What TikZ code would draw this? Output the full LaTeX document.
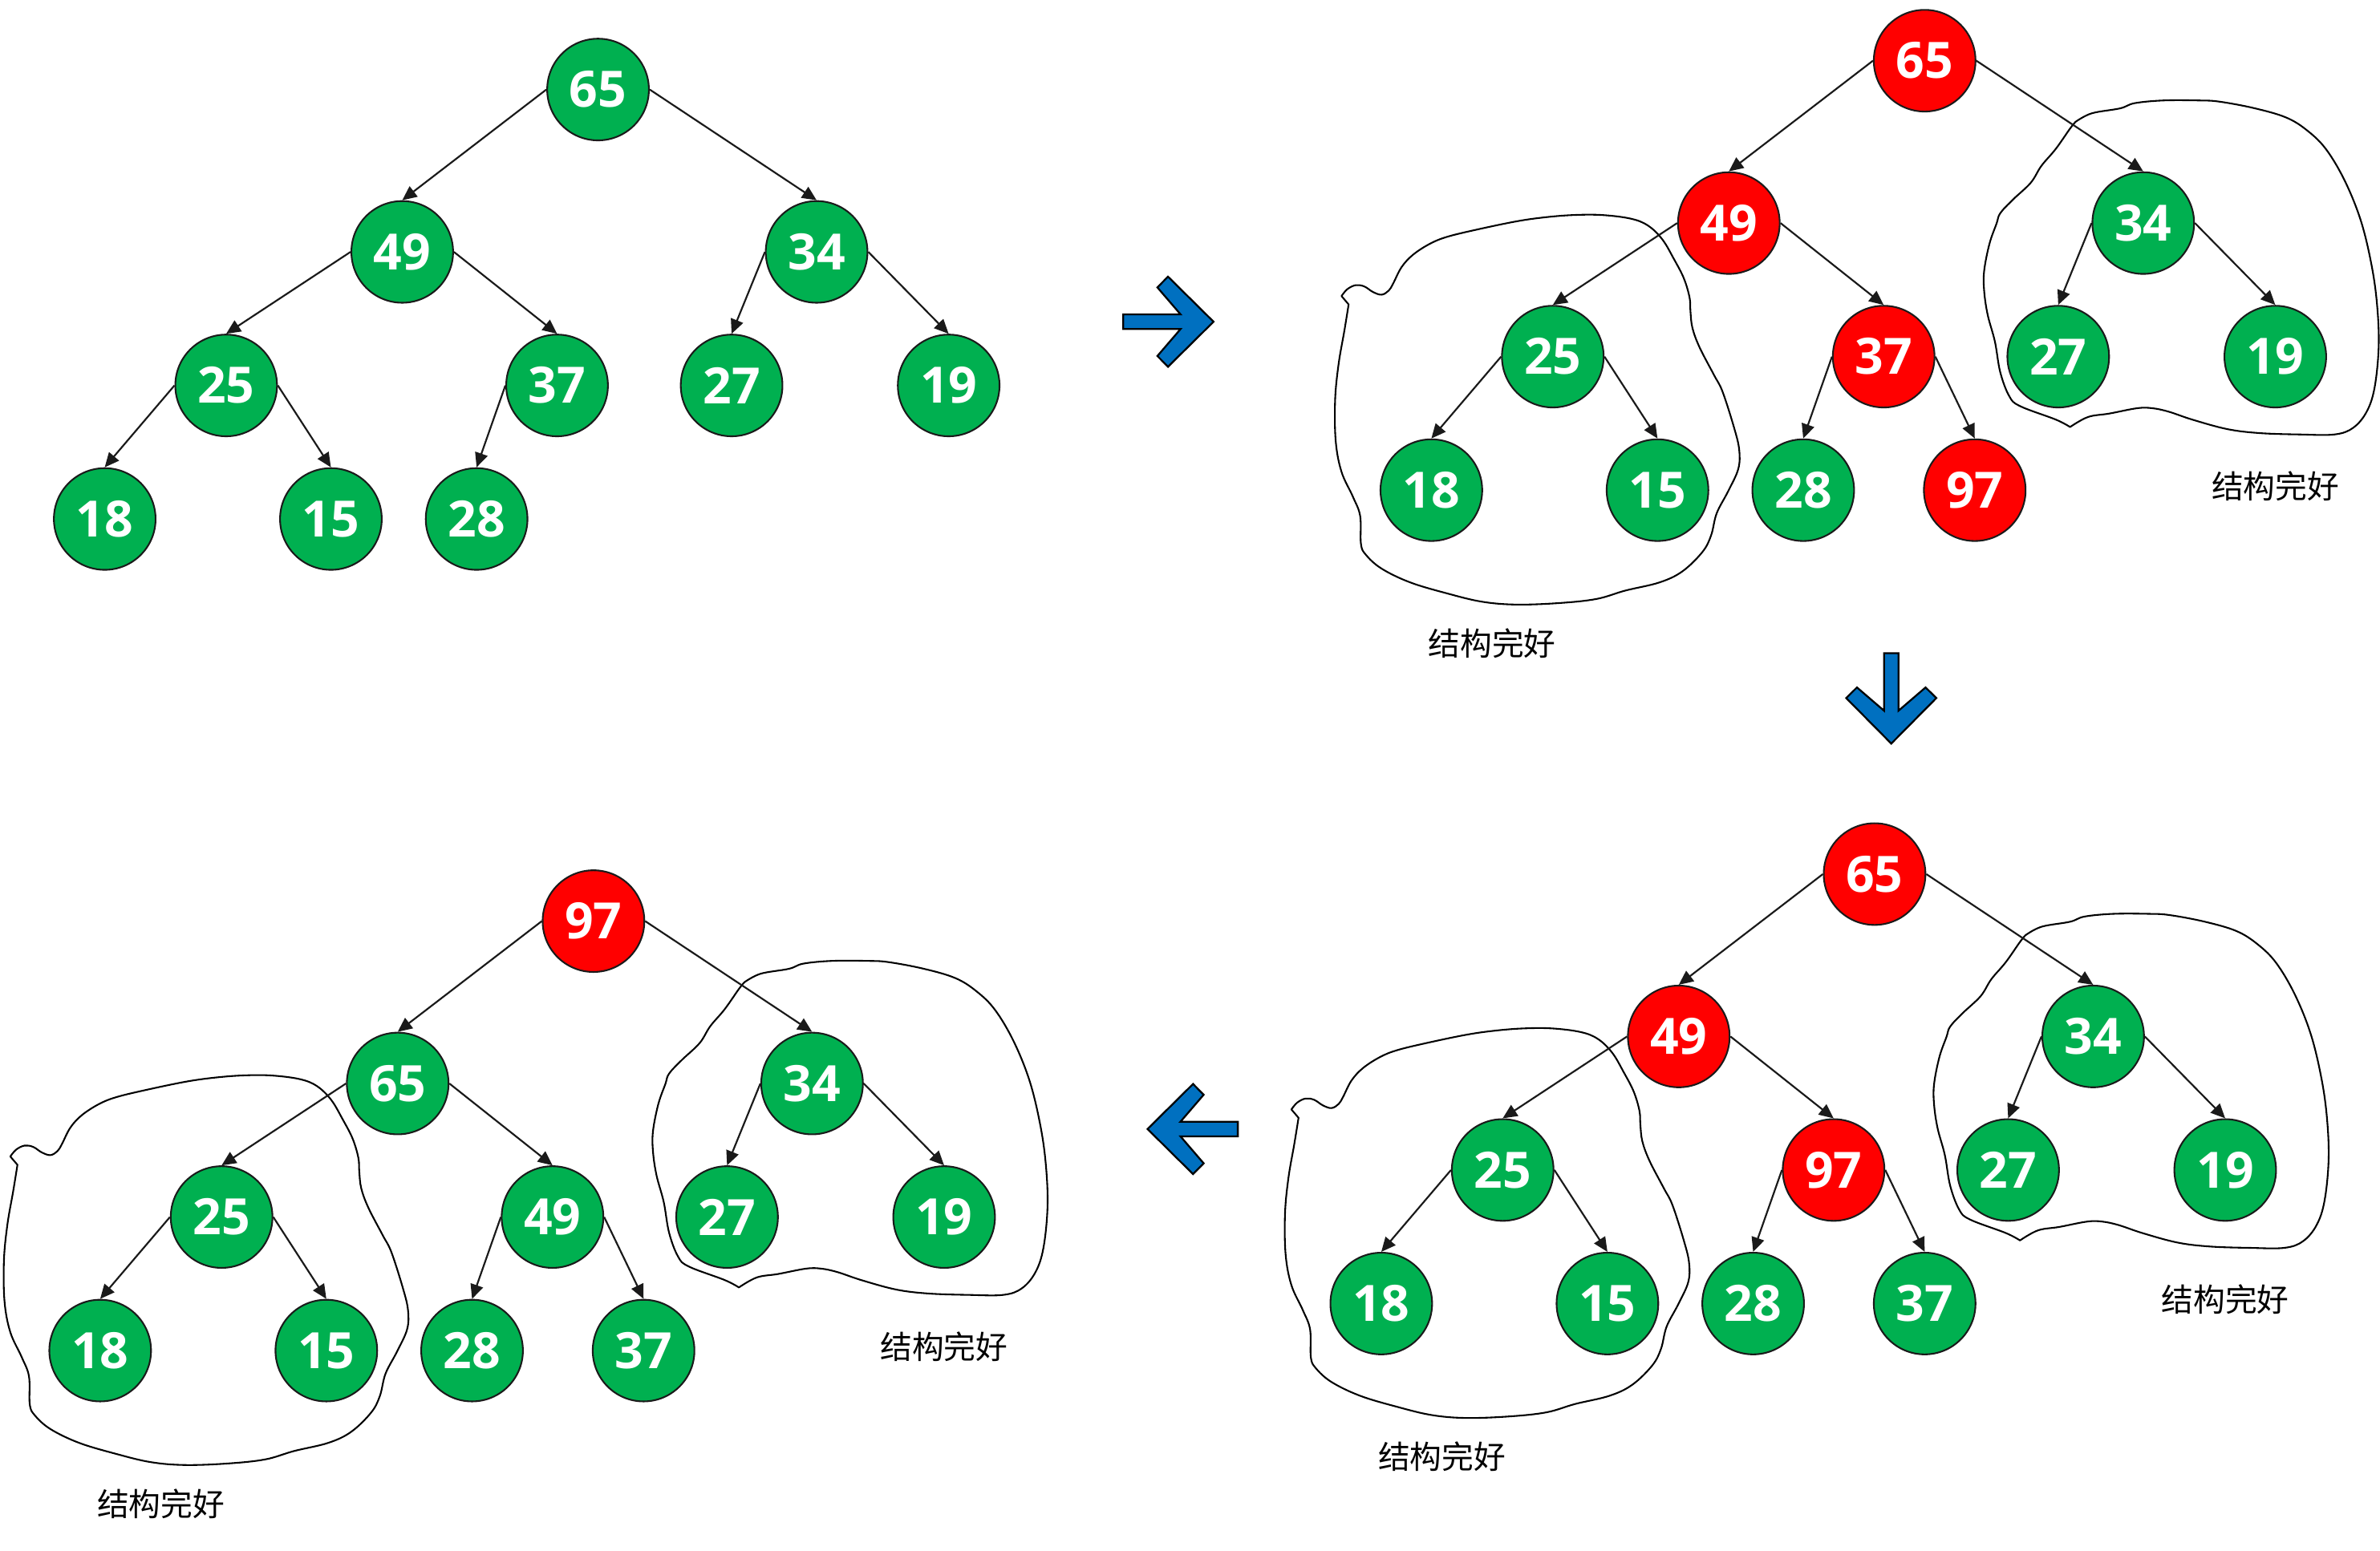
\documentclass[tikz,border=0pt]{standalone}
\usepackage{fontspec}
\setmainfont{Open Sans}
\newfontfamily\cjk{Noto Sans CJK SC}
\usetikzlibrary{arrows.meta}
\definecolor{ngreen}{RGB}{0,176,80}
\definecolor{nred}{RGB}{255,0,0}
\definecolor{nblue}{RGB}{0,112,192}
\definecolor{nline}{RGB}{26,26,26}
\tikzset{
  gnode/.style={circle, fill=ngreen, draw=nline, line width=1.1pt, minimum size=67pt, inner sep=0pt, text=white, font=\bfseries\fontsize{33}{33}\selectfont},
  rnode/.style={gnode, fill=nred},
  edge/.style={draw=nline, line width=1.15pt, -{Triangle[length=9.5pt,width=8.5pt]}},
  blob/.style={draw=black, line width=1.1pt, line join=round},
  lbl/.style={font=\cjk\fontsize{21}{21}\selectfont, inner sep=0pt},
  bigarrow/.style={fill=nblue, draw=black, line width=1.2pt, line join=miter},
}
\newcommand\treeedges[1]{%
  \draw[edge] (a#1.west) -- (b#1.north);
  \draw[edge] (a#1.east) -- (c#1.north);
  \draw[edge] (b#1.west) -- (d#1.north);
  \draw[edge] (b#1.east) -- (e#1.north);
  \draw[edge] (c#1.west) -- (f#1.north);
  \draw[edge] (c#1.east) -- (g#1.north);
  \draw[edge] (d#1.west) -- (h#1.north);
  \draw[edge] (d#1.east) -- (i#1.north);
  \draw[edge] (e#1.west) -- (j#1.north);
}
\newcommand\leftblob{%
  \draw[blob] plot[smooth, tension=0.6] coordinates {
    (-384.2,155.1) (-380.4,150.6) (-374.8,147.9) (-369.1,148.8) (-363.5,152.4)
    (-357.8,154.2) (-353.1,151.5) (-350.2,146.9) (-344.6,136) (-337,127.8)
    (-325.7,120.5) (-314.4,116) (-295.5,111.4) (-269.1,105.9) (-250.2,103.2)
    (-231.3,101.7) (-212.5,101.7) (-193.6,104.1) (-182.2,108.7) (-172.8,117.8)
    (-165.3,130.5) (-158.7,143.3) (-154.9,156) (-154.3,165.2) (-153,176.1)
    (-148.3,188.9) (-138.8,207.1) (-133.2,218) (-125.6,241.7) (-122.2,256.3)
    (-122.8,269) (-129.4,283.6) (-137,298.2) (-140.7,312.8) (-146.4,323.7)
    (-159.6,336.5) (-174.7,343.8) (-197.3,349.2) (-216.2,354.7) (-240.8,357.4)
    (-269.1,358.4) (-291.7,356.5) (-314.4,351.1) (-338.9,343.8) (-357.8,334.7)
    (-368.2,325.5) (-371.4,318.3) (-371.9,300) (-376.7,287.3) (-384.2,270.9)
    (-388,250.8) (-388.4,223.5) (-386.1,199.8) (-382.3,177.9) (-379.5,160.6)
  } -- cycle;
}
\newcommand\rightblob{%
  \draw[blob] plot[smooth, tension=0.6] coordinates {
    (99.4,40.3) (110,34.7) (128.8,31.4) (138.3,28) (157.2,26.2) (180.8,26.2)
    (194.3,27) (217.2,31.3) (238.3,37.5) (252.4,46.3) (264.7,58.7) (277.1,79.8)
    (287.6,106.2) (294.7,136.2) (298.2,162.6) (299.1,189) (296.4,215.5)
    (291.2,231.3) (282.3,241.9) (270,246.3) (247.1,246.3) (220.7,245.4)
    (199.5,242.8) (176.6,236.6) (160.8,231.3) (150,229) (140,229) (121.8,232.5)
    (107.6,234.8) (95.8,241.4)
  } -- plot[smooth, tension=0.6] coordinates {
    (95.8,241.4) (86.4,236.5) (62.8,227.6) (55.7,221) (49.8,205.3) (46.3,185.2)
    (41.5,167.4) (39.2,151.8) (39.2,138.4) (42.7,120.6) (47.4,107.2) (49.8,100.5)
    (58.1,91.6) (69.9,80.4) (76.9,69.3) (86.4,58.1) (95.8,44.7) (99.4,40.3)
  };
}
\begin{document}
\begin{tikzpicture}[x=1pt,y=-1pt]
\useasboundingbox (0,0) rectangle (1568,1022);

% ---------- Panel 1 ----------
\begin{scope}[shift={(394,59)}]
  \node[gnode] (a1) at (0,0) {65};
  \node[gnode] (b1) at (-129,107) {49};
  \node[gnode] (c1) at (144,107) {34};
  \node[gnode] (d1) at (-245,195) {25};
  \node[gnode] (e1) at (-27,195) {37};
  \node[gnode] (f1) at (88,195) {27};
  \node[gnode] (g1) at (231,195) {19};
  \node[gnode] (h1) at (-325,283) {18};
  \node[gnode] (i1) at (-176,283) {15};
  \node[gnode] (j1) at (-80,283) {28};
  \treeedges{1}
\end{scope}

% ---------- Panel 2 ----------
\begin{scope}[shift={(1268,40)}]
  \leftblob
  \rightblob
  \node[rnode] (a2) at (0,0) {65};
  \node[rnode] (b2) at (-129,107) {49};
  \node[gnode] (c2) at (144,107) {34};
  \node[gnode] (d2) at (-245,195) {25};
  \node[rnode] (e2) at (-27,195) {37};
  \node[gnode] (f2) at (88,195) {27};
  \node[gnode] (g2) at (231,195) {19};
  \node[gnode] (h2) at (-325,283) {18};
  \node[gnode] (i2) at (-176,283) {15};
  \node[gnode] (j2) at (-80,283) {28};
  \node[rnode] (k2) at (33,283) {97};
  \treeedges{2}
  \draw[edge] (e2.east) -- (k2.north);
  \node[lbl] (t2a) at (-285,384) {结构完好};
  \node[lbl] (t2b) at (231,280.5) {结构完好};
\end{scope}

% ---------- Panel 3 ----------
\begin{scope}[shift={(1235,576)}]
  \leftblob
  \rightblob
  \node[rnode] (a3) at (0,0) {65};
  \node[rnode] (b3) at (-129,107) {49};
  \node[gnode] (c3) at (144,107) {34};
  \node[gnode] (d3) at (-245,195) {25};
  \node[rnode] (e3) at (-27,195) {97};
  \node[gnode] (f3) at (88,195) {27};
  \node[gnode] (g3) at (231,195) {19};
  \node[gnode] (h3) at (-325,283) {18};
  \node[gnode] (i3) at (-176,283) {15};
  \node[gnode] (j3) at (-80,283) {28};
  \node[gnode] (k3) at (33,283) {37};
  \treeedges{3}
  \draw[edge] (e3.east) -- (k3.north);
  \node[lbl] (t3a) at (-285,384) {结构完好};
  \node[lbl] (t3b) at (231,280.5) {结构完好};
\end{scope}

% ---------- Panel 4 ----------
\begin{scope}[shift={(391,607)}]
  \leftblob
  \rightblob
  \node[rnode] (a4) at (0,0) {97};
  \node[gnode] (b4) at (-129,107) {65};
  \node[gnode] (c4) at (144,107) {34};
  \node[gnode] (d4) at (-245,195) {25};
  \node[gnode] (e4) at (-27,195) {49};
  \node[gnode] (f4) at (88,195) {27};
  \node[gnode] (g4) at (231,195) {19};
  \node[gnode] (h4) at (-325,283) {18};
  \node[gnode] (i4) at (-176,283) {15};
  \node[gnode] (j4) at (-80,283) {28};
  \node[gnode] (k4) at (33,283) {37};
  \treeedges{4}
  \draw[edge] (e4.east) -- (k4.north);
  \node[lbl] (t4a) at (-285,384) {结构完好};
  \node[lbl] (t4b) at (231,280.5) {结构完好};
\end{scope}

% ---------- Block arrows ----------
\begin{scope}[shift={(799.5,212)}]
  \draw[bigarrow] (0,0) -- (-30,-29.7) -- (-37,-22.6) -- (-21.7,-4.8) -- (-59.5,-4.8)
    -- (-59.5,4.8) -- (-21.7,4.8) -- (-37,22.6) -- (-30,29.7) -- cycle;
\end{scope}
\begin{scope}[shift={(1246,490)}]
  \draw[bigarrow] (0,0) -- (29.7,-30) -- (22.6,-37) -- (4.8,-21.7) -- (4.8,-59.5)
    -- (-4.8,-59.5) -- (-4.8,-21.7) -- (-22.6,-37) -- (-29.7,-30) -- cycle;
\end{scope}
\begin{scope}[shift={(756,744)}]
  \draw[bigarrow] (0,0) -- (30,-29.7) -- (37,-22.6) -- (21.7,-4.8) -- (59.5,-4.8)
    -- (59.5,4.8) -- (21.7,4.8) -- (37,22.6) -- (30,29.7) -- cycle;
\end{scope}
\end{tikzpicture}
\end{document}
